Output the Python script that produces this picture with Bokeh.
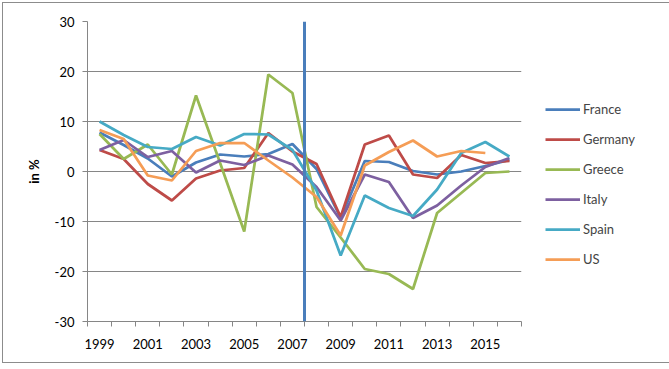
from bokeh.plotting import figure
from bokeh.layouts import column
from bokeh.models import Range1d, FixedTicker, Span, Legend, LegendItem, CustomJSTickFormatter
from bokeh.embed import file_html
from bokeh.resources import INLINE

years = list(range(1999, 2017))
france  = [7.8, 5.3, 2.6, -1.0, 1.8, 3.4, 3.0, 3.5, 5.5, 0.5, -9.3, 2.1, 1.9, 0.1, -0.6, 0.0, 1.1, 2.3]
germany = [4.3, 2.5, -2.5, -5.8, -1.4, 0.2, 0.7, 7.7, 4.0, 1.5, -9.1, 5.4, 7.2, -0.6, -1.3, 3.3, 1.7, 2.1]
greece  = [7.5, 2.5, 5.4, -0.6, 15.2, 1.7, -12.0, 19.4, 15.7, -7.1, -13.2, -19.5, -20.5, -23.5, -8.3, -4.3, -0.3, 0.0]
italy   = [4.3, 6.3, 2.9, 4.1, -0.2, 2.2, 1.3, 3.2, 1.4, -3.1, -9.8, -0.6, -2.1, -9.3, -6.8, -2.8, 0.9, 2.7]
spain   = [10.0, 7.3, 4.9, 4.5, 6.9, 5.2, 7.5, 7.4, 4.3, -3.8, -16.8, -4.8, -7.3, -8.9, -3.6, 3.7, 5.9, 3.0]
us_years = list(range(1999, 2016))
us      = [8.3, 6.5, -0.8, -1.8, 4.1, 5.7, 5.7, 2.2, -1.2, -5.1, -12.8, 1.2, 3.9, 6.2, 3.0, 4.1, 3.7]

names = ["France", "Germany", "Greece", "Italy", "Spain", "US"]
colors = ["#4a7ebb", "#be4b48", "#98b954", "#7d60a0", "#46aac5", "#f59d56"]
series = [(years, france), (years, germany), (years, greece), (years, italy), (years, spain), (us_years, us)]
x_labels = list(range(1999, 2016, 2))
y_ticks = list(range(-30, 31, 10))
marker_year = 2007.5

FONT = "Lato"
GRAY = "#868686"

p = figure(frame_width=434, frame_height=300, output_backend="svg", toolbar_location=None,
           x_range=Range1d(1998.5, 2016.5), y_range=Range1d(-30, 30),
           min_border_left=84, min_border_right=0, min_border_top=18, min_border_bottom=41)
p.outline_line_color = None
p.background_fill_color = "white"
p.border_fill_color = "white"

xt = FixedTicker(ticks=x_labels, minor_ticks=[1998.5 + i for i in range(19)])
p.xaxis.ticker = xt
p.xaxis.major_tick_out = 0
p.xaxis.major_tick_in = 0
p.xaxis.minor_tick_out = 5
p.xaxis.minor_tick_in = 0
p.xaxis.minor_tick_line_color = GRAY
p.xaxis.axis_line_color = GRAY
p.xaxis.major_label_standoff = 12
p.xgrid.visible = False

yt = FixedTicker(ticks=y_ticks, minor_ticks=[])
p.yaxis.ticker = yt
p.yaxis.formatter = CustomJSTickFormatter(code="return tick.toString()")
p.yaxis.major_tick_out = 5
p.yaxis.major_tick_in = 0
p.yaxis.minor_tick_line_color = None
p.yaxis.major_tick_line_color = GRAY
p.yaxis.axis_line_color = GRAY
p.yaxis.major_label_standoff = 8
p.yaxis.axis_label = "in %"
p.yaxis.axis_label_text_font_style = "bold"
p.yaxis.axis_label_text_font = FONT
p.yaxis.axis_label_text_font_size = "13px"
p.yaxis.axis_label_text_color = "black"
p.yaxis.axis_label_standoff = 10
p.ygrid.ticker = yt
p.ygrid.grid_line_color = GRAY
p.ygrid.grid_line_width = 1

for ax in (p.xaxis, p.yaxis):
    ax.major_label_text_font = FONT
    ax.major_label_text_font_size = "13px"
    ax.major_label_text_color = "black"

items = []
for name, color, (xs, ys) in zip(names, colors, series):
    r = p.line(xs, ys, line_color=color, line_width=2.75)
    items.append(LegendItem(label=name, renderers=[r]))

p.add_layout(Span(location=marker_year, dimension="height", line_color="#4a7ebb", line_width=3))

legend = Legend(items=items, location="top_left", padding=0, margin=24,
                title=" ", title_text_font_size="1px", title_standoff=53,
                spacing=10, glyph_width=35, glyph_height=20, label_height=20,
                label_standoff=3, label_text_font=FONT, label_text_font_size="13px",
                border_line_color=None, background_fill_alpha=0)
p.add_layout(legend, "right")

layout = column(p, styles={"border": "1px solid #8c8c8c", "margin": "2px 0 0 2px"})

open("out.html", "w").write(file_html(layout, INLINE))
